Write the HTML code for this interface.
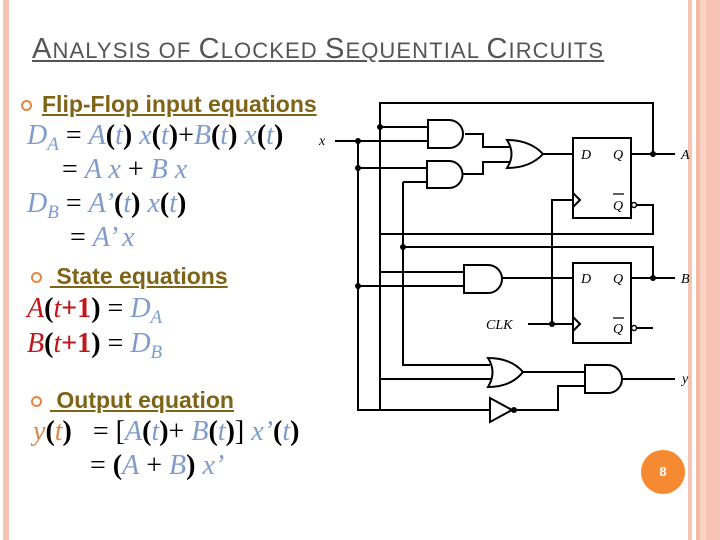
<!DOCTYPE html>
<html><head><meta charset="utf-8"><style>
body{margin:0;width:720px;height:540px;position:relative;background:#fff;overflow:hidden;font-family:"Liberation Sans",sans-serif}
.a{position:absolute;white-space:nowrap}
.t{font-family:"Liberation Serif",serif;font-size:28px;color:#000}
.t b{font-weight:bold}
.b{color:#7f9ccc;font-style:italic}
.r{color:#c0161a}
.o{color:#d9884a;font-style:italic}
.h{font-weight:bold;font-size:23px;color:#7f6418;text-decoration:underline}
.bul{position:absolute;width:7px;height:7px;border:2px solid #e0884a;border-radius:50%}
sub{font-size:19px;vertical-align:-6px}
</style></head><body>
<div class="a" style="left:3px;top:0;width:6px;height:540px;background:#f6c4b2"></div>
<div class="a" style="left:688px;top:0;width:4px;height:540px;background:#f6c4b2"></div>
<div class="a" style="left:696px;top:0;width:4px;height:540px;background:#f4b9a4"></div>
<div class="a" style="left:700px;top:0;width:6px;height:540px;background:#f9d2c4"></div>
<div class="a" style="left:706px;top:0;width:14px;height:540px;background:#f6c4b2"></div>

<div class="a" style="left:32px;top:33px;font-size:29px;color:#555;text-decoration:underline;letter-spacing:1.1px">A<span style="font-size:22px">NALYSIS OF </span>C<span style="font-size:22px">LOCKED </span>S<span style="font-size:22px">EQUENTIAL </span>C<span style="font-size:22px">IRCUITS</span></div>

<div class="bul" style="left:21px;top:100px"></div>
<div class="a h" style="left:42px;top:91px">Flip-Flop input equations</div>
<div class="a t" style="left:27px;top:120px"><span class="b">D<sub>A</sub></span> = <span class="b">A</span><b>(</b><span class="b">t</span><b>)</b> <span class="b">x</span><b>(</b><span class="b">t</span><b>)</b>+<span class="b">B</span><b>(</b><span class="b">t</span><b>)</b> <span class="b">x</span><b>(</b><span class="b">t</span><b>)</b></div>
<div class="a t" style="left:62px;top:154px">= <span class="b">A x</span> + <span class="b">B x</span></div>
<div class="a t" style="left:27px;top:188px"><span class="b">D<sub>B</sub></span> = <span class="b">A’</span><b>(</b><span class="b">t</span><b>)</b> <span class="b">x</span><b>(</b><span class="b">t</span><b>)</b></div>
<div class="a t" style="left:70px;top:222px">= <span class="b">A’ x</span></div>

<div class="bul" style="left:31px;top:272px"></div>
<div class="a h" style="left:50px;top:263px">&nbsp;State equations</div>
<div class="a t" style="left:27px;top:293px"><i class="r">A</i><b>(</b><i class="r">t</i><b class="r">+1</b><b>)</b> = <span class="b">D<sub>A</sub></span></div>
<div class="a t" style="left:27px;top:328px"><i class="r">B</i><b>(</b><i class="r">t</i><b class="r">+1</b><b>)</b> = <span class="b">D<sub>B</sub></span></div>

<div class="bul" style="left:31px;top:396px"></div>
<div class="a h" style="left:50px;top:387px">&nbsp;Output equation</div>
<div class="a t" style="left:33px;top:416px"><span class="o">y</span><b>(</b><span class="o">t</span><b>)</b> &nbsp; = [<span class="b">A</span><b>(</b><span class="b">t</span><b>)</b>+ <span class="b">B</span><b>(</b><span class="b">t</span><b>)</b>] <span class="b">x’</span><b>(</b><span class="b">t</span><b>)</b></div>
<div class="a t" style="left:90px;top:450px">= <b>(</b><span class="b">A</span> + <span class="b">B</span><b>)</b> <span class="b">x’</span></div>

<div class="a" style="left:641px;top:450px;width:44px;height:44px;border-radius:50%;background:#f58a32;color:#fff;font-weight:bold;font-size:13px;text-align:center;line-height:44px">8</div>

<svg class="a" style="left:0;top:0" width="720" height="540" viewBox="0 0 720 540">
<g fill="none" stroke="#000" stroke-width="2">
<path d="M380 410V103H653V154"/>
<path d="M380 127H428M335 141H428"/>
<path d="M358 141V410H490"/>
<path d="M358 168H427M403 182H427M403 182V365H490"/>
<path d="M465 134H483V147H510M463 174H483V162H510"/>
<path d="M543 154H573M631 154H675"/>
<path d="M636 205H653V234H380V272H464M358 286H464"/>
<path d="M403 247H653V278M502 278H573M631 278H675"/>
<path d="M636 328H653"/>
<path d="M528 324H573M552 324V200H573"/>
<path d="M380 379H492M523 372H585M622 379H675M517 410H558V386H585"/>
<rect x="573" y="138" width="58" height="80"/>
<rect x="573" y="263" width="58" height="80"/>
<path d="M573 193L580 200L573 207M573 317L580 324L573 331"/>
<path d="M428 120H449A14 14 0 0 1 449 148H428Z"/>
<path d="M427 161H449A13.5 13.5 0 0 1 449 188H427Z"/>
<path d="M464 265H488A14 14 0 0 1 488 293H464Z"/>
<path d="M585 365H608A14 14 0 0 1 608 393H585Z"/>
<path d="M507 140Q530 140 543 154Q530 168 507 168Q516 154 507 140Z"/>
<path d="M488 358Q511 358 523 372Q511 387 488 387Q497 372 488 358Z"/>
<path d="M490 398L512 410L490 422Z"/>
<circle cx="634" cy="205" r="2.5" stroke-width="1.5"/>
<circle cx="634" cy="328" r="2.5" stroke-width="1.5"/>
</g>
<g fill="#000">
<circle cx="380" cy="127" r="3"/><circle cx="358" cy="141" r="3"/><circle cx="358" cy="168" r="3"/>
<circle cx="358" cy="286" r="3"/><circle cx="403" cy="247" r="3"/><circle cx="653" cy="154" r="3"/>
<circle cx="653" cy="278" r="3"/><circle cx="552" cy="324" r="3"/><circle cx="514" cy="410" r="3"/>
</g>
<g font-family="Liberation Serif,serif" font-style="italic" font-size="14" fill="#000">
<text x="319" y="145">x</text>
<text x="581" y="159">D</text><text x="613" y="159">Q</text><text x="613" y="210">Q</text>
<text x="581" y="283">D</text><text x="613" y="283">Q</text><text x="613" y="333">Q</text>
<text x="681" y="159">A</text><text x="681" y="283">B</text><text x="682" y="383">y</text>
<text x="486" y="329">CLK</text>
</g>
<path d="M613 194H624M613 318H624" stroke="#000" stroke-width="1.2"/>
</svg>
</body></html>
